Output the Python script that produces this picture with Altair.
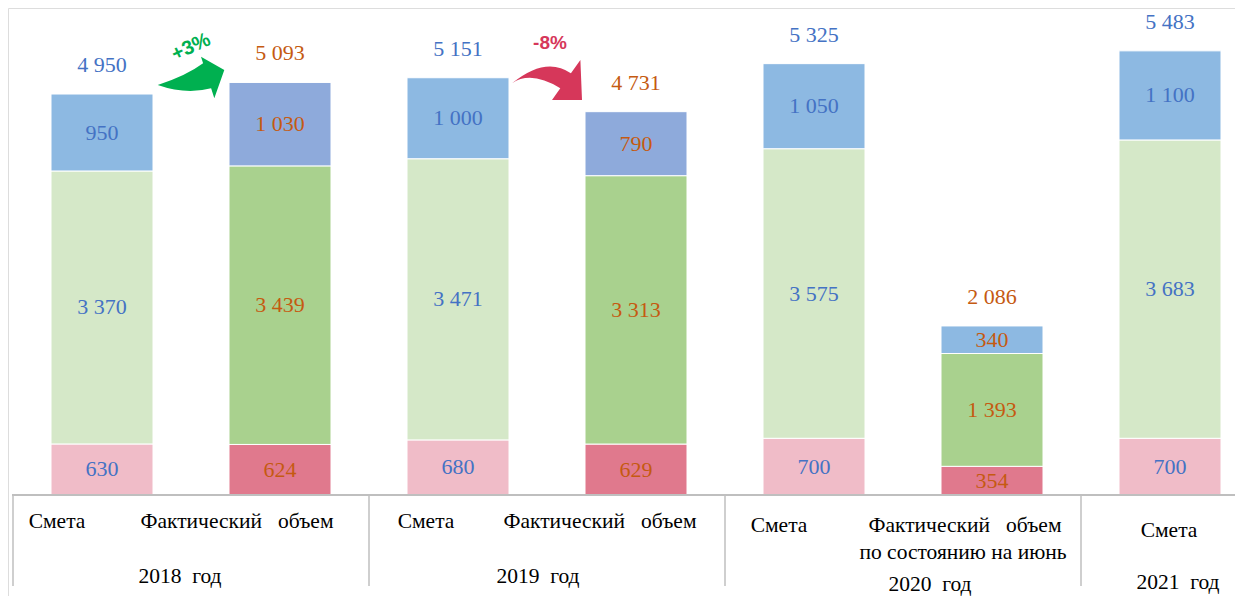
import altair as alt
import pandas as pd

# ---------------- data ----------------
bar_pos = [0, 1, 2, 3, 4, 5, 6]
bar_kind = ["Смета", "Факт", "Смета", "Факт", "Смета", "Факт", "Смета"]
pink_vals = [630, 624, 680, 629, 700, 354, 700]
green_vals = [3370, 3439, 3471, 3313, 3575, 1393, 3683]
blue_vals = [950, 1030, 1000, 790, 1050, 340, 1100]
totals = [4950, 5093, 5151, 4731, 5325, 2086, 5483]
group_bounds = [-0.5, 1.5, 3.5, 5.5]

NB = "\u00a0"
axis_labels = ["Смета", "Фактический" + NB * 3 + "объем", "2018" + NB * 2 + "год",
               "Смета", "Фактический" + NB * 3 + "объем", "2019" + NB * 2 + "год",
               "Смета", "Фактический" + NB * 3 + "объем",
               "по" + NB + "состоянию" + NB + "на" + NB + "июнь", "2020" + NB * 2 + "год",
               "Смета", "2021" + NB * 2 + "год"]
axis_label_px = [49, 229, 172, 418, 592, 530, 771, 957, 955, 922, 1161, 1170]
axis_label_py = [514, 514, 569, 514, 514, 569, 518, 518, 545, 577, 523, 575]

changes = ["+3%", "-8%"]
change_pos = [0.5, 2.5]

SERIF = "Liberation Serif"

# colours
pink_c = {"Смета": "#F0BCC8", "Факт": "#E0798D"}
green_c = {"Смета": "#D5E8C8", "Факт": "#A9D18E"}
blue_c = {"Смета": "#8DB9E2", "Факт": "#8EAADB"}
text_c = {"Смета": "#4472C4", "Факт": "#C55A11"}


def fmt(v):
    return f"{v:,}".replace(",", " ")


rows = []
for i, p in enumerate(bar_pos):
    k = bar_kind[i]
    base = 0
    for seg, vals, cmap in (("pink", pink_vals, pink_c), ("green", green_vals, green_c), ("blue", blue_vals, blue_c)):
        v = vals[i]
        col = cmap[k]
        if seg == "blue" and i == 5:
            col = blue_c["Смета"]
        rows.append({"pos": p, "y0": base, "y1": base + v, "mid": base + v / 2,
                     "label": fmt(v), "fill": col, "tcol": text_c[k]})
        base += v
seg_df = pd.DataFrame(rows)
tot_df = pd.DataFrame({"pos": bar_pos, "total": totals,
                       "label": [fmt(t) for t in totals],
                       "tcol": [text_c[k] for k in bar_kind]})
bound_df = pd.DataFrame({"b": group_bounds})
lab_df = pd.DataFrame({"t": axis_labels, "px": axis_label_px, "py": axis_label_py})

W, H = 1227, 588
BASE = 487
xs = alt.Scale(domain=[0, 6], range=[94, 1162], padding=0)
ys = alt.Scale(domain=[0, 6012], range=[BASE, 0], padding=0)

bars = alt.Chart(seg_df).mark_bar(size=102, stroke="white", strokeWidth=1).encode(
    x=alt.X("pos:Q", scale=xs, axis=None),
    y=alt.Y("y0:Q", scale=ys, axis=None),
    y2="y1:Q",
    fill=alt.Fill("fill:N", scale=None),
)
seg_text = alt.Chart(seg_df).mark_text(font=SERIF, fontSize=22, baseline="middle").encode(
    x=alt.X("pos:Q", scale=xs),
    y=alt.Y("mid:Q", scale=ys),
    text="label:N",
    color=alt.Color("tcol:N", scale=None),
)
tot_text = alt.Chart(tot_df).mark_text(font=SERIF, fontSize=22, baseline="middle", dy=-29).encode(
    x=alt.X("pos:Q", scale=xs),
    y=alt.Y("total:Q", scale=ys),
    text="label:N",
    color=alt.Color("tcol:N", scale=None),
)

hline = alt.Chart(bound_df).mark_rule(color="#BFBFBF", strokeWidth=1.5).encode(
    x=alt.value(4), x2=alt.value(W), y=alt.value(BASE)
)
vlines = alt.Chart(bound_df).mark_rule(color="#BFBFBF", strokeWidth=1.5).encode(
    x=alt.X("b:Q", scale=xs), y=alt.value(BASE), y2=alt.value(578)
)
cat_text = alt.Chart(lab_df).mark_text(font=SERIF, fontSize=21.5, baseline="middle", color="black").encode(
    x=alt.X("px:Q", scale=None), y=alt.Y("py:Q", scale=None), text="t:N"
)

green_arrow = ("M -1 0.225 Q -0.15 -0.045 0.363 -0.426 L 0.30 -0.625 L 1.0 -0.225 "
               "L 0.70 0.625 L 0.604 0.324 Q -0.15 0.525 -1 0.225 Z")
red_arrow = ("M -1 0.094 Q -0.03 -0.694 0.683 -0.191 L 0.954 -0.571 L 1.0 0.571 "
             "L 0.143 0.571 L 0.38 0.237 Q -0.45 -0.28 -1 0.094 Z")

chg_df = pd.DataFrame({"pos": change_pos, "t": changes})
arrow1 = alt.Chart(chg_df.iloc[[0]]).mark_point(shape=green_arrow, filled=True, size=4436,
                                                 color="#00B050", opacity=1, strokeWidth=0).encode(
    x=alt.X("pos:Q", scale=xs), y=alt.value(69.5)
)
arrow2 = alt.Chart(chg_df.iloc[[1]]).mark_point(shape=red_arrow, filled=True, size=4900,
                                                 color="#D6375A", opacity=1, strokeWidth=0).encode(
    x=alt.X("pos:Q", scale=xs), y=alt.value(72)
)
chg1 = alt.Chart(chg_df.iloc[[0]]).mark_text(font="Liberation Sans", fontWeight="bold", fontSize=20,
                                            color="#00B050", angle=335, baseline="middle").encode(
    x=alt.X("pos:Q", scale=xs), y=alt.value(39), text="t:N"
)
chg2 = alt.Chart(chg_df.iloc[[1]]).mark_text(font="Liberation Sans", fontWeight="bold", fontSize=19,
                                            color="#D6375A", baseline="middle", dx=3).encode(
    x=alt.X("pos:Q", scale=xs), y=alt.value(35), text="t:N"
)

chart = alt.layer(bars, seg_text, tot_text, hline, vlines, cat_text, arrow1, arrow2, chg1, chg2).properties(
    width=W, height=H, autosize=alt.AutoSizeParams(type="none"), padding=0
).configure_view(stroke=None).configure(background="white")

chart.save("out.html", embed_options={"renderer": "svg", "actions": False})
